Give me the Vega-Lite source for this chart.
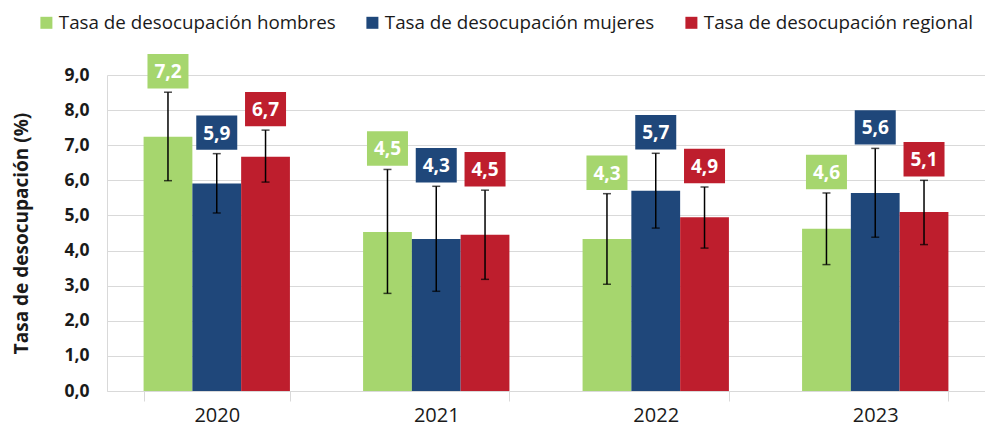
{
  "$schema": "https://vega.github.io/schema/vega-lite/v6.json",
  "width": 878,
  "height": 316,
  "autosize": {"type": "none"},
  "padding": {"left": 107, "top": 75, "right": 0, "bottom": 43},
  "background": "white",
  "data": {
    "values": [
      {"year": "2020", "series": "Tasa de desocupación hombres", "value": 7.24, "lo": 5.99, "hi": 8.51, "label": "7,2"},
      {"year": "2020", "series": "Tasa de desocupación mujeres", "value": 5.91, "lo": 5.07, "hi": 6.76, "label": "5,9"},
      {"year": "2020", "series": "Tasa de desocupación regional", "value": 6.67, "lo": 5.95, "hi": 7.43, "label": "6,7"},
      {"year": "2021", "series": "Tasa de desocupación hombres", "value": 4.53, "lo": 2.78, "hi": 6.31, "label": "4,5"},
      {"year": "2021", "series": "Tasa de desocupación mujeres", "value": 4.33, "lo": 2.84, "hi": 5.83, "label": "4,3"},
      {"year": "2021", "series": "Tasa de desocupación regional", "value": 4.45, "lo": 3.18, "hi": 5.72, "label": "4,5"},
      {"year": "2022", "series": "Tasa de desocupación hombres", "value": 4.33, "lo": 3.04, "hi": 5.62, "label": "4,3"},
      {"year": "2022", "series": "Tasa de desocupación mujeres", "value": 5.70, "lo": 4.64, "hi": 6.77, "label": "5,7"},
      {"year": "2022", "series": "Tasa de desocupación regional", "value": 4.95, "lo": 4.07, "hi": 5.81, "label": "4,9"},
      {"year": "2023", "series": "Tasa de desocupación hombres", "value": 4.62, "lo": 3.60, "hi": 5.64, "label": "4,6"},
      {"year": "2023", "series": "Tasa de desocupación mujeres", "value": 5.64, "lo": 4.38, "hi": 6.91, "label": "5,6"},
      {"year": "2023", "series": "Tasa de desocupación regional", "value": 5.10, "lo": 4.17, "hi": 6.00, "label": "5,1"}
    ]
  },
  "encoding": {
    "x": {
      "field": "year", "type": "nominal",
      "scale": {"paddingInner": 0.3333, "paddingOuter": 0.1667},
      "axis": {
        "title": null, "labelAngle": 0, "labelFont": "Open Sans", "labelFontSize": 20,
        "labelColor": "#1a1a1a", "domainColor": "#d9d9d9", "tickColor": "#d9d9d9",
        "tickBand": "extent", "tickSize": 10, "labelPadding": 4, "grid": false
      }
    },
    "xOffset": {
      "field": "series", "type": "nominal",
      "sort": ["Tasa de desocupación hombres", "Tasa de desocupación mujeres", "Tasa de desocupación regional"],
      "scale": {"paddingInner": 0, "paddingOuter": 0}
    }
  },
  "layer": [
    {
      "mark": {"type": "bar"},
      "encoding": {
        "y": {
          "field": "value", "type": "quantitative",
          "scale": {"domain": [0, 9], "nice": false},
          "axis": {
            "values": [0, 1, 2, 3, 4, 5, 6, 7, 8, 9],
            "tickCount": 20,
            "title": "Tasa de desocupación (%)"
          }
        },
        "color": {
          "field": "series", "type": "nominal",
          "scale": {
            "domain": ["Tasa de desocupación hombres", "Tasa de desocupación mujeres", "Tasa de desocupación regional"],
            "range": ["#A6D66E", "#1F477A", "#BE1E2D"]
          },
          "legend": {
            "title": null, "orient": "none", "direction": "horizontal",
            "legendX": -70, "legendY": -62,
            "symbolType": "square", "symbolSize": 144, "symbolStrokeWidth": 0, "symbolOpacity": 1,
            "labelFont": "Open Sans", "labelFontSize": 18.8, "labelColor": "#1a1a1a",
            "labelOffset": 3, "columnPadding": 27, "labelLimit": 400
          }
        }
      }
    },
    {
      "mark": {"type": "rule", "color": "black", "strokeWidth": 1.5},
      "encoding": {
        "y": {"field": "lo", "type": "quantitative"},
        "y2": {"field": "hi"}
      }
    },
    {
      "mark": {"type": "tick", "color": "black", "thickness": 1.5, "size": 8},
      "encoding": {"y": {"field": "lo", "type": "quantitative"}}
    },
    {
      "mark": {"type": "tick", "color": "black", "thickness": 1.5, "size": 8},
      "encoding": {"y": {"field": "hi", "type": "quantitative"}}
    },
    {
      "mark": {"type": "point", "shape": "M-1,-0.84H1V0.84H-1Z", "size": 1681, "filled": true, "opacity": 1, "strokeWidth": 0, "yOffset": -21},
      "encoding": {
        "y": {"field": "hi", "type": "quantitative"},
        "color": {"field": "series", "type": "nominal", "legend": null}
      }
    },
    {
      "mark": {"type": "text", "color": "white", "font": "Open Sans", "fontSize": 19, "fontWeight": "bold", "baseline": "middle", "align": "center", "yOffset": -20},
      "encoding": {
        "y": {"field": "hi", "type": "quantitative"},
        "text": {"field": "label"}
      }
    }
  ],
  "resolve": {"axis": {"y": "shared"}},
  "config": {
    "view": {"stroke": null},
    "axisY": {
      "labelOverlap": false,
      "labelExpr": "replace(format(datum.value, '.1f'), '.', ',')",
      "labelFont": "Open Sans", "labelFontSize": 17.5, "labelFontWeight": "bold",
      "labelColor": "#1a1a1a", "labelPadding": 18, "ticks": false,
      "domainColor": "#d9d9d9", "gridColor": "#d9d9d9", "grid": true,
      "titleFont": "Open Sans", "titleFontSize": 19,
      "titleFontWeight": "bold", "titleColor": "#1a1a1a",
      "titleX": -86, "titleY": 158, "titleAngle": -90, "titleAlign": "center", "titleBaseline": "middle"
    }
  }
}
